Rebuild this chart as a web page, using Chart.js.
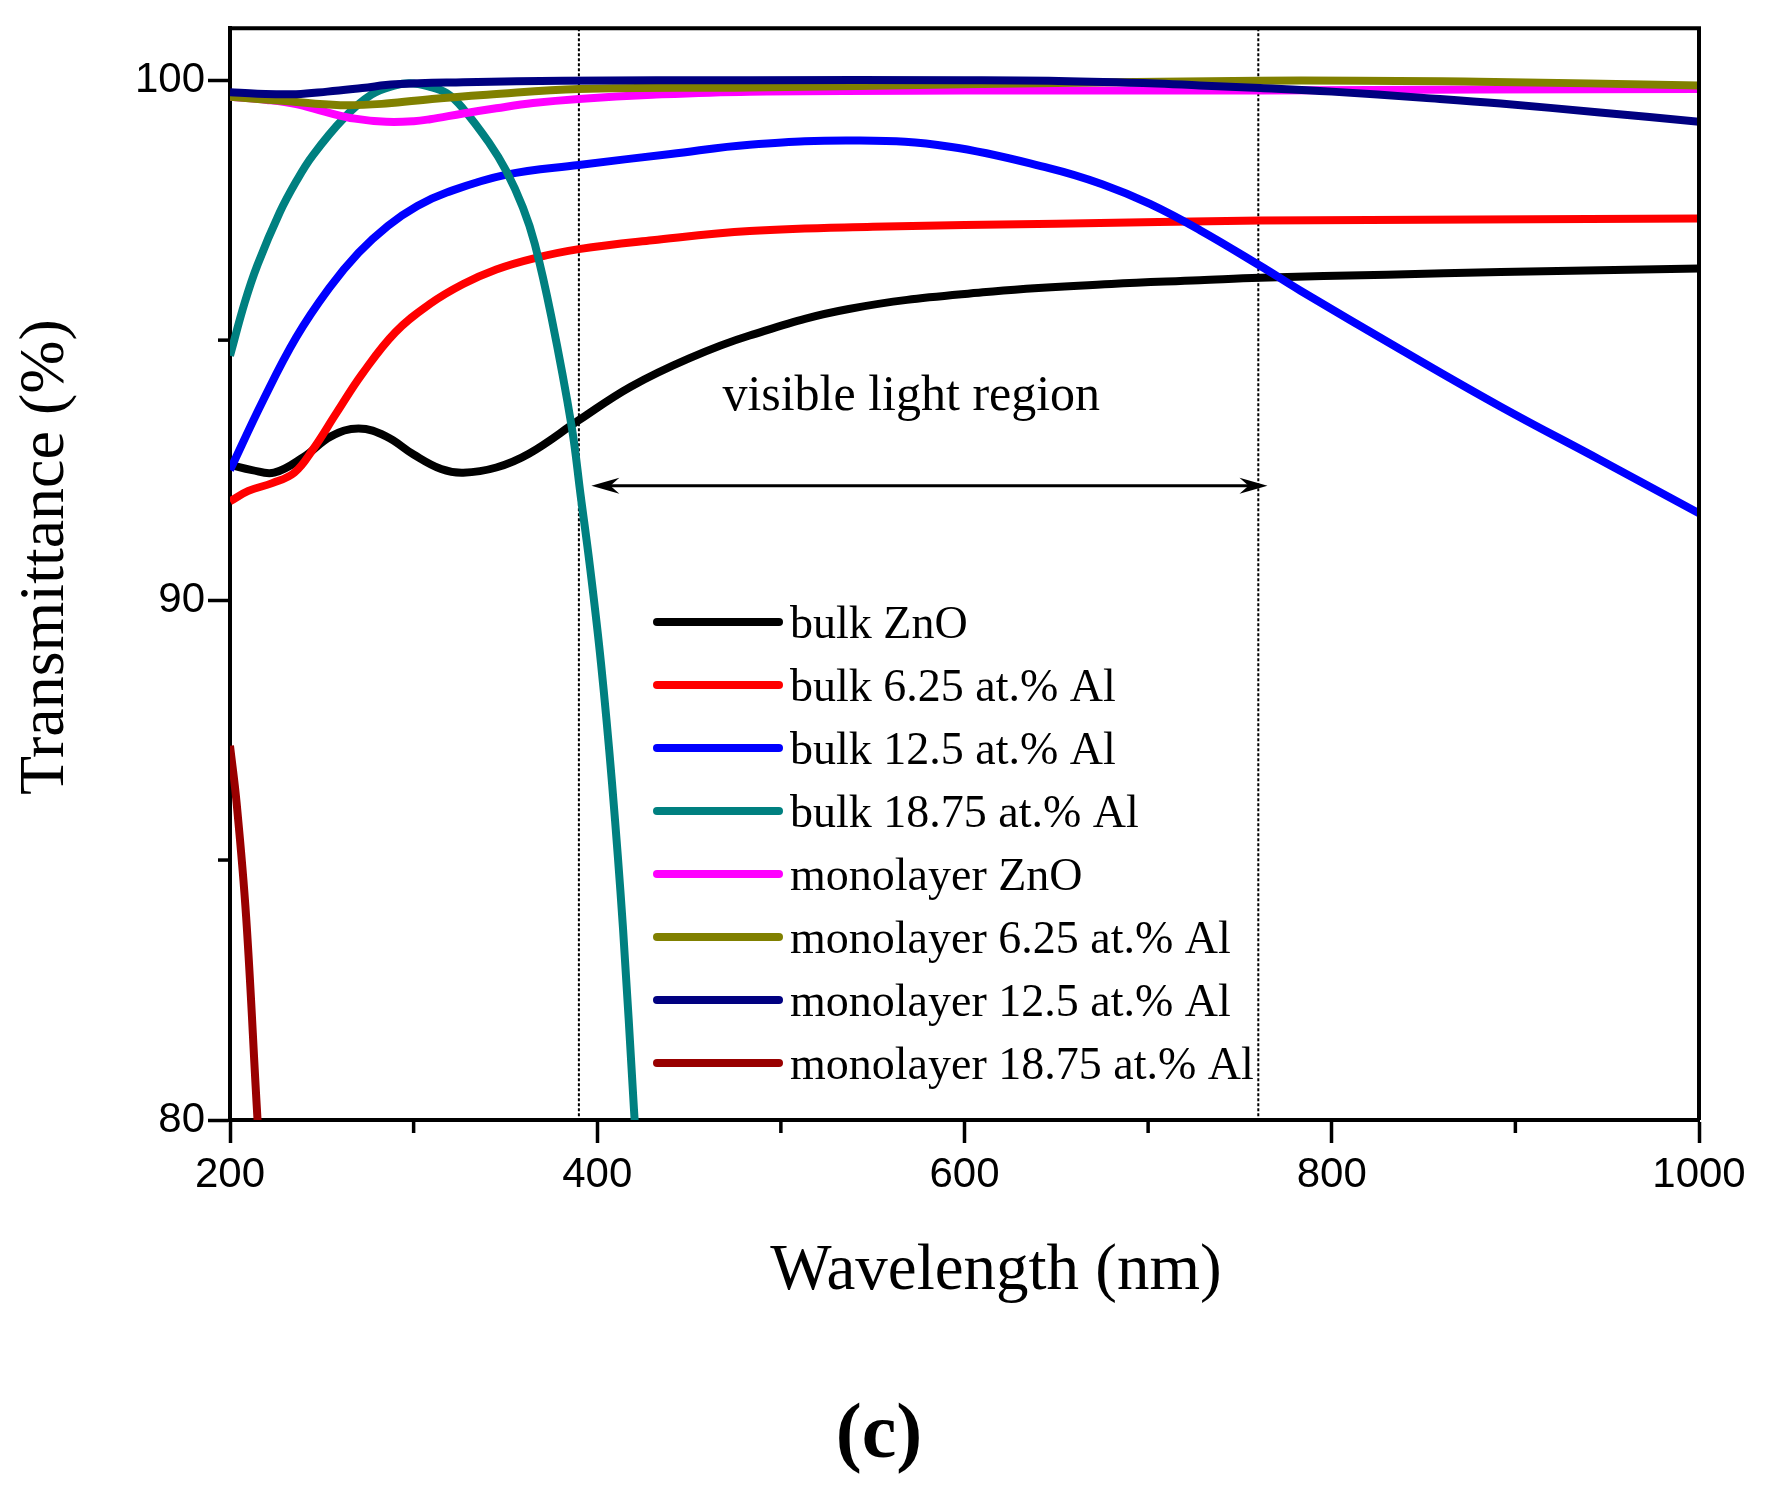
<!DOCTYPE html>
<html>
<head>
<meta charset="utf-8">
<title>Transmittance</title>
<script src="https://cdn.jsdelivr.net/npm/chart.js@4.4.0/dist/chart.umd.min.js"></script>
<style>
    html, body { margin: 0; padding: 0; background: #ffffff; }
    #obal { width: 1768px; height: 1498px; }
</style>
</head>
<body>
<div id="obal"><canvas id="canvas" width="1768" height="1498"></canvas></div>
<script>
// hodnoty odcitane z obrazku: vlnova dlzka (nm) a priepustnost (%)
var bulkZnO_nm = [200, 212, 224, 240, 255, 270, 285, 300, 315, 327, 345, 363, 390, 418, 450, 483, 537, 610, 680, 728, 761, 830, 892, 1000];
var bulkZnO_T = [92.6, 92.5, 92.45, 92.75, 93.15, 93.3, 93.15, 92.8, 92.52, 92.45, 92.55, 92.82, 93.46, 94.1, 94.65, 95.09, 95.6, 95.92, 96.08, 96.15, 96.2, 96.26, 96.31, 96.38];

var bulk625_nm = [200, 210, 223, 235, 245, 258, 272, 290, 309, 327, 345, 365, 390, 430, 483, 550, 650, 761, 880, 1000];
var bulk625_T = [91.9, 92.1, 92.25, 92.45, 92.89, 93.6, 94.35, 95.15, 95.7, 96.08, 96.36, 96.57, 96.75, 96.92, 97.1, 97.18, 97.24, 97.3, 97.32, 97.34];

var bulk125_nm = [200, 218, 236, 254, 270, 286, 302, 318, 350, 390, 440, 483, 543, 592, 646, 675, 701, 728, 761, 783, 837, 892, 946, 1000];
var bulk125_T = [92.5, 93.84, 95.05, 96.0, 96.68, 97.2, 97.58, 97.84, 98.18, 98.37, 98.58, 98.76, 98.84, 98.72, 98.31, 98.0, 97.62, 97.12, 96.43, 95.95, 94.83, 93.72, 92.7, 91.67];

var bulk1875_nm = [200, 208, 215, 227, 236, 245, 262, 277, 290, 298, 308, 318, 327, 341, 350.5, 359.5, 366, 375, 386, 391, 396, 402, 408, 414, 420, 423];
var bulk1875_T = [94.7, 95.72, 96.45, 97.45, 98.05, 98.55, 99.27, 99.72, 99.9, 99.94, 99.88, 99.75, 99.45, 98.8, 98.25, 97.55, 96.85, 95.45, 93.35, 92.0, 90.65, 88.8, 86.5, 83.7, 80.2, 78.5];

var monoZnO_nm = [200, 220, 236, 252, 268, 285, 300, 309, 327, 345, 365, 390, 430, 483, 600, 761, 880, 1000];
var monoZnO_T = [99.68, 99.62, 99.54, 99.39, 99.26, 99.2, 99.21, 99.25, 99.36, 99.46, 99.56, 99.64, 99.72, 99.78, 99.8, 99.8, 99.82, 99.83];

var mono625_nm = [200, 230, 260, 285, 310, 340, 390, 483, 600, 760, 880, 1000];
var mono625_T = [99.68, 99.6, 99.52, 99.55, 99.64, 99.72, 99.83, 99.86, 99.92, 99.99, 99.97, 99.9];

var mono125_nm = [200, 215, 236, 253, 272, 290, 327, 381, 483, 600, 646, 701, 728, 761, 800, 850, 892, 946, 1000];
var mono125_T = [99.77, 99.74, 99.73, 99.78, 99.85, 99.92, 99.96, 99.99, 100.0, 100.0, 99.99, 99.94, 99.9, 99.85, 99.78, 99.66, 99.55, 99.38, 99.2];

var mono1875_nm = [200, 203.6, 208.8, 215, 217];
var mono1875_T = [87.2, 86.1, 83.9, 80.0, 79.0];

var nazvy = ["bulk ZnO", "bulk 6.25 at.% Al", "bulk 12.5 at.% Al", "bulk 18.75 at.% Al",
             "monolayer ZnO", "monolayer 6.25 at.% Al", "monolayer 12.5 at.% Al", "monolayer 18.75 at.% Al"];
var farby = ["#000000", "#ff0000", "#0000ff", "#008080", "#ff00ff", "#808000", "#000080", "#990000"];

// osi
var xTicks = [200, 400, 600, 800, 1000];
var xMinor = [300, 500, 700, 900];
var yTicks = [80, 90, 100];
var yMinor = [85, 95];

// oblast viditelneho svetla
var viditelne = [390, 760];
var sipkaOd = 396.8;
var sipkaDo = 765;
var sipkaT = 92.2;
var popisNm = 571;
var popisT = 93.65;

var SERIF = '"Liberation Serif", "Times New Roman", serif';
var SANS = '"Liberation Sans", Arial, sans-serif';

function body(nm, T) {
    var pole = [];
    for (var i = 0; i < nm.length; i++) {
        pole.push({x: nm[i], y: T[i]});
    }
    return pole;
}

var vsetkyNm = [bulkZnO_nm, bulk625_nm, bulk125_nm, bulk1875_nm, monoZnO_nm, mono625_nm, mono125_nm, mono1875_nm];
var vsetkyT = [bulkZnO_T, bulk625_T, bulk125_T, bulk1875_T, monoZnO_T, mono625_T, mono125_T, mono1875_T];

var datasety = [];
for (var i = 0; i < nazvy.length; i++) {
    datasety.push({
        label: nazvy[i],
        data: body(vsetkyNm[i], vsetkyT[i]),
        borderColor: farby[i],
        backgroundColor: farby[i],
        borderWidth: 8,
        pointRadius: 0,
        fill: false,
        tension: 0.4,
        borderJoinStyle: 'round',
        clip: 0,
        order: nazvy.length - i   // neskorsie krivky su navrchu
    });
}

function sipka(ctx, x, y, smer) {
    ctx.beginPath();
    ctx.moveTo(x, y);
    ctx.lineTo(x - smer * 28, y - 8);
    ctx.lineTo(x - smer * 19, y);
    ctx.lineTo(x - smer * 28, y + 8);
    ctx.closePath();
    ctx.fill();
}

var doplnky = {
    id: 'doplnky',
    beforeDatasetsDraw: function (chart) {
        var ctx = chart.ctx;
        var a = chart.chartArea;
        var sx = chart.scales.x;
        ctx.save();
        ctx.strokeStyle = '#000';
        ctx.lineWidth = 2;
        ctx.setLineDash([3, 2]);
        for (var k = 0; k < viditelne.length; k++) {
            var px = sx.getPixelForValue(viditelne[k]);
            ctx.beginPath();
            ctx.moveTo(px, a.top);
            ctx.lineTo(px, a.bottom);
            ctx.stroke();
        }
        ctx.restore();
    },
    afterDatasetsDraw: function (chart) {
        var ctx = chart.ctx;
        var a = chart.chartArea;
        var sx = chart.scales.x;
        var sy = chart.scales.y;
        ctx.save();

        // obojstranna sipka
        var x1 = sx.getPixelForValue(sipkaOd);
        var x2 = sx.getPixelForValue(sipkaDo);
        var yy = sy.getPixelForValue(sipkaT);
        ctx.strokeStyle = '#000';
        ctx.fillStyle = '#000';
        ctx.lineWidth = 3;
        ctx.beginPath();
        ctx.moveTo(x1 + 10, yy);
        ctx.lineTo(x2 - 10, yy);
        ctx.stroke();
        sipka(ctx, x1, yy, -1);
        sipka(ctx, x2, yy, 1);

        ctx.font = '50px ' + SERIF;
        ctx.textAlign = 'center';
        ctx.textBaseline = 'alphabetic';
        ctx.fillText('visible light region', sx.getPixelForValue(popisNm), sy.getPixelForValue(popisT));

        // ramik hore a vpravo
        ctx.lineWidth = 4;
        ctx.beginPath();
        ctx.moveTo(a.left, a.top);
        ctx.lineTo(a.right, a.top);
        ctx.lineTo(a.right, a.bottom);
        ctx.stroke();

        // vedlajsie ciarky
        ctx.lineWidth = 3.5;
        for (var k = 0; k < xMinor.length; k++) {
            var px = sx.getPixelForValue(xMinor[k]);
            ctx.beginPath();
            ctx.moveTo(px, a.bottom);
            ctx.lineTo(px, a.bottom + 13);
            ctx.stroke();
        }
        for (var k = 0; k < yMinor.length; k++) {
            var py = sy.getPixelForValue(yMinor[k]);
            ctx.beginPath();
            ctx.moveTo(a.left, py);
            ctx.lineTo(a.left - 12, py);
            ctx.stroke();
        }

        // legenda
        ctx.font = '46px ' + SERIF;
        ctx.textAlign = 'left';
        ctx.lineCap = 'round';
        ctx.lineWidth = 8;
        for (var i = 0; i < nazvy.length; i++) {
            var ry = 622 + 63 * i;
            ctx.strokeStyle = farby[i];
            ctx.beginPath();
            ctx.moveTo(657, ry);
            ctx.lineTo(779, ry);
            ctx.stroke();
            ctx.fillText(nazvy[i], 790, ry + 16);
        }
        ctx.restore();
    },
    afterDraw: function (chart) {
        var ctx = chart.ctx;
        ctx.save();
        ctx.fillStyle = '#000';
        ctx.textBaseline = 'alphabetic';
        ctx.textAlign = 'center';

        ctx.font = '65px ' + SERIF;
        ctx.fillText('Wavelength (nm)', 996, 1289);

        ctx.save();
        ctx.translate(63, 557);
        ctx.rotate(-Math.PI / 2);
        ctx.font = '64px ' + SERIF;
        ctx.fillText('Transmittance (%)', 0, 0);
        ctx.restore();

        ctx.font = 'bold 78px ' + SERIF;
        ctx.fillText('(c)', 879, 1457);
        ctx.restore();
    }
};

function popisCisla(hodnota) {
    return String(hodnota);
}

var canvas = document.getElementById('canvas');
var graf = new Chart(canvas, {
    type: 'line',
    data: { datasets: datasety },
    options: {
        responsive: false,
        devicePixelRatio: 1,
        animation: false,
        layout: { padding: { top: 23, right: 69, left: 0, bottom: 0 } },
        plugins: {
            legend: { display: false },
            tooltip: { enabled: false }
        },
        scales: {
            x: {
                type: 'linear',
                min: 200,
                max: 1000,
                afterBuildTicks: function (s) {
                    s.ticks = xTicks.map(function (v) { return {value: v}; });
                },
                afterFit: function (s) { s.height = 378; },
                grid: { drawOnChartArea: false, drawTicks: true, tickLength: 23, tickWidth: 3.5, tickColor: '#000' },
                border: { display: true, color: '#000', width: 4 },
                ticks: {
                    font: { family: SANS, size: 42 },
                    color: '#000',
                    padding: 7,
                    maxRotation: 0,
                    autoSkip: false,
                    callback: popisCisla
                }
            },
            y: {
                type: 'linear',
                min: 80,
                max: 101,
                afterBuildTicks: function (s) {
                    s.ticks = yTicks.map(function (v) { return {value: v}; });
                },
                afterFit: function (s) { s.width = 230; },
                grid: { drawOnChartArea: false, drawTicks: true, tickLength: 22, tickWidth: 3.5, tickColor: '#000' },
                border: { display: true, color: '#000', width: 4 },
                ticks: {
                    font: { family: SANS, size: 42 },
                    color: '#000',
                    padding: 3,
                    autoSkip: false,
                    callback: popisCisla
                }
            }
        }
    },
    plugins: [doplnky]
});
</script>
</body>
</html>
